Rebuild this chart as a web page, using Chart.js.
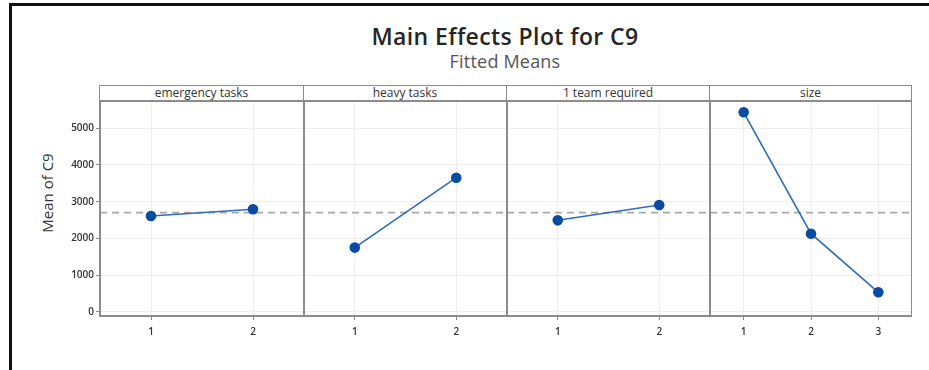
<!DOCTYPE html>
<html>
<head>
<meta charset="utf-8">
<script src="https://cdn.jsdelivr.net/npm/chart.js@4/dist/chart.umd.min.js"></script>
<style>
  body { margin: 0; background: #fff; font-family: "Open Sans", sans-serif; }
  #page { position: relative; width: 929px; height: 370px; overflow: hidden; }
  #frame { position: absolute; left: 9px; top: 3px; width: 930px; height: 364px;
           border-left: 3px solid #111; border-top: 3px solid #111; border-bottom: 1px solid #d0d0d0; }
  #title { position: absolute; left: 0; width: 1010px; top: 20px; text-align: center;
           font-size: 23px; letter-spacing: 0.4px; font-weight: 600; color: #262626; }
  #subtitle { position: absolute; left: 0; width: 1010px; top: 49px; text-align: center;
              font-size: 18px; letter-spacing: 0.2px; color: #555; }
  #ytitle { position: absolute; left: 47px; top: 193px; transform: translate(-50%, -50%) rotate(-90deg);
            white-space: nowrap; font-size: 15px; color: #333; }
  .strip { position: absolute; top: 85px; height: 14px; border: 1.5px solid #8c8c8c;
           font-size: 12px; line-height: 14px; text-align: center; color: #333; box-sizing: content-box; }
  canvas { position: absolute; }
</style>
</head>
<body>
<div id="page">
  <div id="frame"></div>
  <div id="title">Main Effects Plot for C9</div>
  <div id="subtitle">Fitted Means</div>
  <div id="ytitle">Mean of C9</div>
</div>
<script>
// factors and fitted means
const factors = ["emergency tasks", "heavy tasks", "1 team required", "size"];
const emergencyLevels = [1, 2];
const emergencyMeans = [2609, 2792];
const heavyLevels = [1, 2];
const heavyMeans = [1747, 3653];
const teamLevels = [1, 2];
const teamMeans = [2491, 2909];
const sizeLevels = [1, 2, 3];
const sizeMeans = [5436, 2127, 529];
const grandMean = 2700;
const yTicks = [0, 1000, 2000, 3000, 4000, 5000];

const panels = [
  { levels: emergencyLevels, means: emergencyMeans, left: 100, width: 204 },
  { levels: heavyLevels, means: heavyMeans, left: 304, width: 203 },
  { levels: teamLevels, means: teamMeans, left: 507, width: 203 },
  { levels: sizeLevels, means: sizeMeans, left: 710, width: 202 }
];

const Y_MIN = -117, Y_MAX = 5744;
const PLOT_TOP = 101, CANVAS_H = 250, XAXIS_H = 35, YAXIS_W = 60;

const framePlugin = {
  id: 'panelFrame',
  afterDraw(chart) {
    const a = chart.chartArea, ctx = chart.ctx;
    ctx.save();
    ctx.strokeStyle = '#8c8c8c';
    ctx.lineWidth = 2;
    ctx.strokeRect(a.left, a.top, a.right - a.left, a.bottom - a.top);
    ctx.restore();
  }
};

const page = document.getElementById('page');

panels.forEach((p, i) => {
  const strip = document.createElement('div');
  strip.className = 'strip';
  strip.style.left = (p.left - 1) + 'px';
  strip.style.width = (p.width - 1) + 'px';
  strip.textContent = factors[i];
  page.appendChild(strip);

  const first = i === 0;
  const canvas = document.createElement('canvas');
  const cw = p.width + (first ? YAXIS_W : 0);
  canvas.style.left = (p.left - (first ? YAXIS_W : 0)) + 'px';
  canvas.style.top = PLOT_TOP + 'px';
  canvas.style.width = cw + 'px';
  canvas.style.height = CANVAS_H + 'px';
  canvas.width = cw;
  canvas.height = CANVAS_H;
  page.appendChild(canvas);

  const xMin = 0.5, xMax = p.levels.length + 0.5;

  new Chart(canvas, {
    type: 'line',
    data: {
      datasets: [
        {
          data: p.levels.map((lv, k) => ({ x: lv, y: p.means[k] })),
          borderColor: '#2f6db8',
          borderWidth: 1.6,
          pointBackgroundColor: '#0a4ca3',
          pointBorderColor: '#0a4ca3',
          pointRadius: 4.5,
          order: 1
        },
        {
          data: [{ x: xMin, y: grandMean }, { x: xMax, y: grandMean }],
          borderColor: '#a8a8a8',
          borderWidth: 1.6,
          borderDash: [7, 5],
          pointRadius: 0,
          order: 2
        }
      ]
    },
    options: {
      responsive: false,
      animation: false,
      layout: { padding: 0, autoPadding: false },
      plugins: { legend: { display: false }, tooltip: { enabled: false } },
      scales: {
        x: {
          type: 'linear',
          min: xMin,
          max: xMax,
          afterBuildTicks: s => { s.ticks = p.levels.map(v => ({ value: v })); },
          afterFit: s => { s.height = XAXIS_H; s.paddingLeft = 0; s.paddingRight = 0; },
          border: { display: false },
          grid: { color: '#eeeeee', tickColor: '#8c8c8c', tickLength: 4, lineWidth: 1 },
          ticks: { color: '#333', font: { family: 'Open Sans', size: 10, weight: '600' }, padding: 6 }
        },
        y: {
          min: Y_MIN,
          max: Y_MAX,
          afterBuildTicks: s => { s.ticks = yTicks.map(v => ({ value: v })); },
          afterFit: s => { s.width = first ? YAXIS_W : 0; s.paddingTop = 0; s.paddingBottom = 0; },
          border: { display: false },
          grid: { color: '#eeeeee', tickColor: '#8c8c8c', tickLength: 4, drawTicks: first },
          ticks: {
            display: first,
            color: '#333',
            font: { family: 'Open Sans', size: 10, weight: '600' },
            padding: 2,
            callback: v => String(v)
          }
        }
      }
    },
    plugins: [framePlugin]
  });
});
</script>
</body>
</html>
